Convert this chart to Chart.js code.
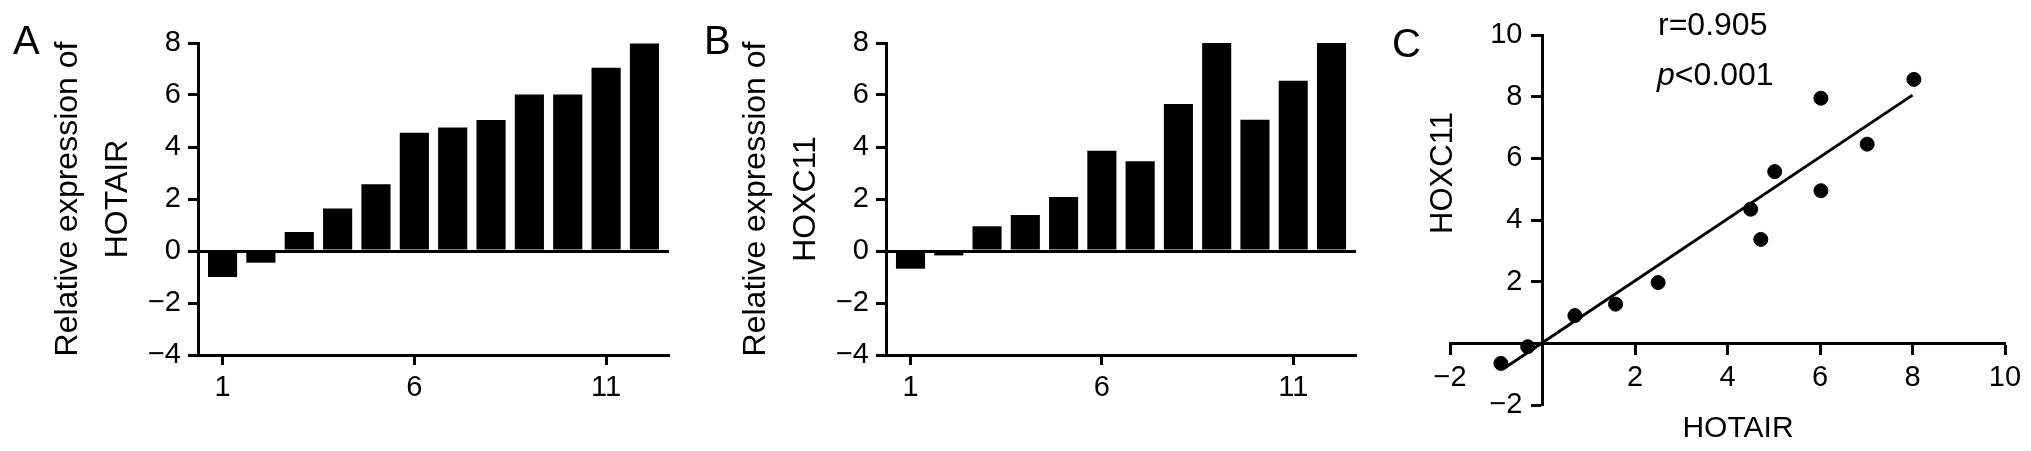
<!DOCTYPE html>
<html>
<head>
<meta charset="utf-8">
<script src="https://cdn.jsdelivr.net/npm/chart.js@4.4.1/dist/chart.umd.min.js"></script>
<style>
  body { margin: 0; background: #fff; width: 2031px; height: 451px; overflow: hidden; position: relative;
         font-family: 'Liberation Sans', Arial, sans-serif; color: #000; }
  .panel { position: absolute; top: 0; height: 451px; }
  .lbl { position: absolute; white-space: nowrap; line-height: 1; }
  .letter { font-size: 40px; }
  .rot { transform: translate(-50%, -50%) rotate(-90deg); }
  .mid { transform: translate(-50%, -50%); }
</style>
</head>
<body>
<div class="panel" style="left:0;width:680px"><canvas id="chartA"></canvas></div>
<div class="panel" style="left:680px;width:680px"><canvas id="chartB"></canvas></div>
<div class="panel" style="left:1360px;width:671px"><canvas id="chartC"></canvas></div>

<div class="lbl letter" style="left:13px;top:20px">A</div>
<div class="lbl letter" style="left:704px;top:20px">B</div>
<div class="lbl letter" style="left:1392px;top:23px">C</div>

<div class="lbl" style="left:1658px;top:8px;font-size:32px">r=0.905</div>
<div class="lbl" style="left:1657px;top:58px;font-size:32px"><i>p</i>&lt;0.001</div>
<div class="lbl rot" style="left:1441px;top:173px;font-size:31px">HOXC11</div>
<div class="lbl mid" style="left:1738px;top:427px;font-size:30px">HOTAIR</div>

<script>
const FONT = "'Liberation Sans', Arial, sans-serif";

// samples 1..12, sorted by HOTAIR level
const samples = [1, 2, 3, 4, 5, 6, 7, 8, 9, 10, 11, 12];
const hotair = [-1.0, -0.45, 0.73, 1.63, 2.57, 4.55, 4.75, 5.04, 6.02, 6.02, 7.05, 7.98];
const hoxc11 = [-0.68, -0.17, 0.95, 1.38, 2.08, 3.86, 3.45, 5.65, 8.0, 5.05, 6.55, 8.0];
const barXTicks = [1, 6, 11];
const barYTicks = [-4, -2, 0, 2, 4, 6, 8];

// correlation panel
const scatterX = [-0.9, -0.32, 0.7, 1.58, 2.5, 4.5, 4.72, 5.02, 6.02, 6.02, 7.02, 8.03];
const scatterY = [-0.65, -0.11, 0.9, 1.27, 1.97, 4.35, 3.37, 5.57, 7.95, 4.95, 6.46, 8.56];
const fitX = [-0.86, 8.0];
const fitY = [-0.84, 8.05];
const corrTicks = [-2, 0, 2, 4, 6, 8, 10];

Chart.defaults.font.family = FONT;
Chart.defaults.color = '#000';

const TICK_LEN = 10;
const TICK_FONT = 29;
const fmt = v => (v < 0 ? '\u2212' + Math.abs(v) : String(v));

function barChart(id, values, gene, yWidth, padRight, titlePad) {
  return new Chart(document.getElementById(id), {
    type: 'bar',
    data: {
      datasets: [{
        data: samples.map((s, i) => ({ x: s, y: values[i] })),
        backgroundColor: '#000',
        categoryPercentage: 1,
        barPercentage: 0.76
      }]
    },
    options: {
      responsive: true,
      maintainAspectRatio: false,
      animation: false,
      layout: { padding: { left: 0, right: padRight, top: 43, bottom: 0 } },
      plugins: { legend: { display: false }, tooltip: { enabled: false } },
      scales: {
        x: {
          type: 'linear', min: 0.36, max: 12.64, offset: false,
          afterBuildTicks: s => { s.ticks = barXTicks.map(v => ({ value: v })); },
          afterFit: s => { s.height = 96; },
          border: { color: '#000', width: 3 },
          grid: { drawOnChartArea: false, offset: false, tickLength: TICK_LEN, tickWidth: 3, tickColor: '#000' },
          ticks: { font: { size: TICK_FONT }, padding: 6, maxRotation: 0, callback: v => String(v) }
        },
        y: {
          min: -4, max: 8,
          afterBuildTicks: s => { s.ticks = barYTicks.map(v => ({ value: v })); },
          afterFit: s => { s.width = yWidth; },
          border: { color: '#000', width: 3 },
          grid: {
            color: c => (c.tick && c.tick.value === 0 ? '#000' : 'rgba(0,0,0,0)'),
            lineWidth: 3, tickLength: TICK_LEN, tickWidth: 3, tickColor: '#000'
          },
          ticks: { font: { size: TICK_FONT }, padding: 7, callback: fmt },
          title: {
            display: true, text: ['Relative expression of', gene],
            font: { size: 32, lineHeight: 1.56 }, padding: { top: titlePad, bottom: 0 }
          }
        }
      }
    }
  });
}

barChart('chartA', hotair, 'HOTAIR', 198, 11, 43);
barChart('chartB', hoxc11, 'HOXC11', 206, 4, 51);

// y labels of an axis that crosses at x=0 sit right on the line; move them left of the ticks
const Y_LABEL_GAP = 20;
function shiftYLabels(s) {
  if (s._labelsShifted) return;
  s._labelsShifted = true;
  const compute = s._computeLabelItems;
  s._computeLabelItems = function (area) {
    const items = compute.call(this, area);
    items.forEach(it => { it.options.translation[0] -= Y_LABEL_GAP; });
    return items;
  };
}

new Chart(document.getElementById('chartC'), {
  type: 'scatter',
  data: {
    datasets: [
      {
        type: 'line',
        data: fitX.map((x, i) => ({ x: x, y: fitY[i] })),
        borderColor: '#000', borderWidth: 3, pointRadius: 0, fill: false, order: 2
      },
      {
        data: scatterX.map((x, i) => ({ x: x, y: scatterY[i] })),
        backgroundColor: '#000', borderColor: '#000', pointRadius: 7, order: 1
      }
    ]
  },
  options: {
    responsive: true,
    maintainAspectRatio: false,
    animation: false,
    layout: { padding: { left: 90, right: 26, top: 35, bottom: 46 } },
    plugins: { legend: { display: false }, tooltip: { enabled: false } },
    scales: {
      x: {
        type: 'linear', position: { y: 0 }, min: -2, max: 10,
        afterBuildTicks: s => { s.ticks = corrTicks.map(v => ({ value: v })); },
        border: { color: '#000', width: 3 },
        grid: { drawOnChartArea: false, tickLength: TICK_LEN, tickWidth: 3, tickColor: '#000' },
        ticks: { font: { size: TICK_FONT }, padding: 7, maxRotation: 0, callback: v => (v === 0 ? '' : fmt(v)) }
      },
      y: {
        type: 'linear', position: { x: 0 }, min: -2, max: 10,
        afterBuildTicks: s => { s.ticks = corrTicks.map(v => ({ value: v })); },
        afterUpdate: shiftYLabels,
        border: { color: '#000', width: 3 },
        grid: { drawOnChartArea: false, tickLength: TICK_LEN, tickWidth: 3, tickColor: '#000' },
        ticks: { font: { size: TICK_FONT }, callback: v => (v === 0 ? '' : fmt(v)) }
      }
    }
  }
});
</script>
</body>
</html>
